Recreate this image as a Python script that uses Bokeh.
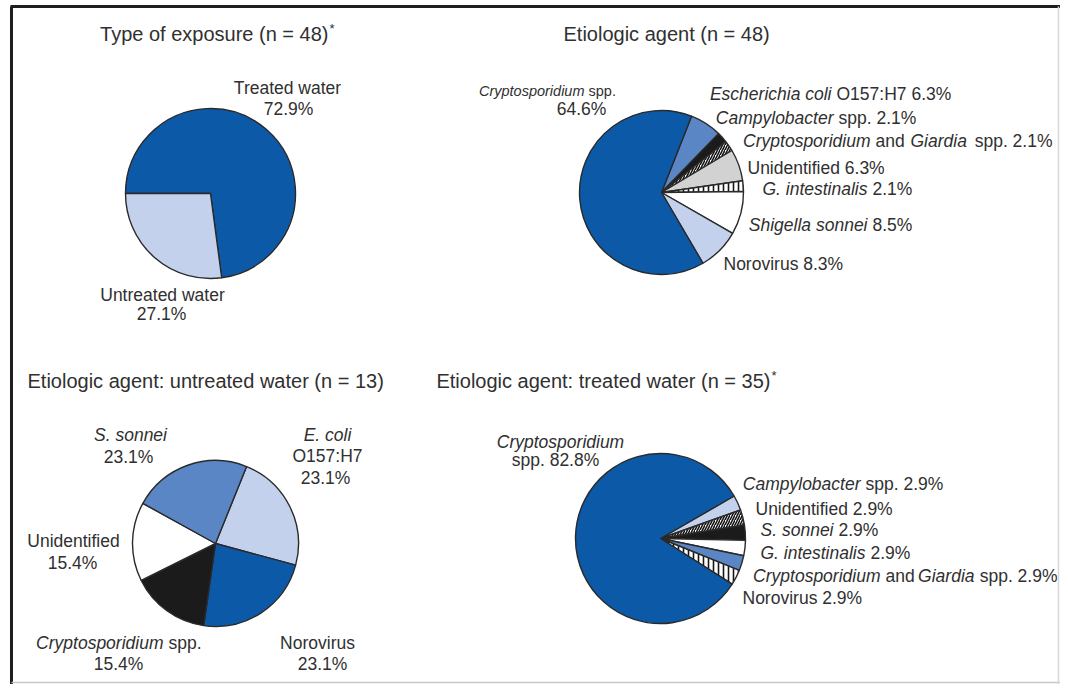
import numpy as np
from bokeh.plotting import figure
from bokeh.models import ColumnDataSource, Range1d
from bokeh.core.properties import value
from bokeh.embed import file_html
from bokeh.resources import INLINE

# ---------------- data ----------------
exposure_cats = ["Treated water", "Untreated water"]
exposure_pct = [72.9, 27.1]

agent_cats = ["Escherichia coli O157:H7", "Campylobacter spp.", "Cryptosporidium and Giardia spp.",
              "Unidentified", "G. intestinalis", "Shigella sonnei", "Norovirus", "Cryptosporidium spp."]
agent_pct = [6.3, 2.1, 2.1, 6.3, 2.1, 8.5, 8.3, 64.6]

untreated_cats = ["E. coli O157:H7", "Norovirus", "Cryptosporidium spp.", "Unidentified", "S. sonnei"]
untreated_pct = [23.1, 23.1, 15.4, 15.4, 23.1]

treated_cats = ["Campylobacter spp.", "Unidentified", "S. sonnei", "G. intestinalis",
                "Cryptosporidium and Giardia spp.", "Norovirus", "Cryptosporidium spp."]
treated_pct = [2.9, 2.9, 2.9, 2.9, 2.9, 2.9, 82.8]

titles = ["Type of exposure (n = 48)", "Etiologic agent (n = 48)",
          "Etiologic agent: untreated water (n = 13)", "Etiologic agent: treated water (n = 35)"]

# ---------------- styles ----------------
FONT = "Liberation Sans"
TXT = "#303030"
TITLE_SIZE = "20px"
LBL = "17.5px"
DARK = "#0c5aa7"
MED = "#5b86c6"
LIGHT = "#c4d1ec"
BLACK = "#1b1b1b"
GRAY = "#d2d2d2"
WHITE = "#ffffff"

W, H = 1060, 684
p = figure(width=W, height=H, output_backend="svg", toolbar_location=None,
           x_range=Range1d(0, W), y_range=Range1d(-H, 0),
           x_axis_type=None, y_axis_type=None, min_border=0)
p.grid.visible = False
p.outline_line_color = None
p.background_fill_color = "white"
p.border_fill_color = "white"

# frame (screen-pixel coordinates, y flipped)
p.segment(x0=[10, 11, 11, 1058], y0=[-6, -6, -682, -6], x1=[1060, 11, 1060, 1058], y1=[-6, -684, -682, -684],
          line_color=["#1e1e1e", "#1e1e1e", "#c8c8c8", "#d8d8d8"], line_width=[3, 3, 1.5, 1.5])


def pie(cx, cy, r, start_deg, pct, fills, hatches):
    vals = np.array(pct, dtype=float)
    frac = vals / vals.sum()
    cum = np.concatenate([[0.0], np.cumsum(frac)])
    a0 = np.deg2rad(start_deg) - 2 * np.pi * cum[:-1]
    a1 = np.deg2rad(start_deg) - 2 * np.pi * cum[1:]
    src = ColumnDataSource(dict(start=a0, end=a1, fill=fills, hatch=hatches))
    p.wedge(x=cx, y=-cy, radius=r, start_angle="start", end_angle="end", direction="clock",
            fill_color="fill", hatch_pattern="hatch", hatch_color="#151515", hatch_scale=5,
            hatch_weight=1.6, line_color="#2a2a2a", line_width=1.4, source=src)


def txt(x, y, s, size=LBL, italic=False, align="left"):
    p.text(x=[x], y=[-y], text=[s], text_font=value(FONT), text_font_size=size,
           text_font_style="italic" if italic else "normal", text_align=align,
           text_baseline="middle", text_color=TXT)


def pc(v):
    return f"{v:.1f}%"


# ---------------- pie 1: type of exposure ----------------
pie(210, 193, 85, 180, exposure_pct, [DARK, LIGHT], [" ", " "])
txt(328, 33, titles[0], size=TITLE_SIZE, align="right")
txt(329, 28, "*", size="13px")
txt(287, 87, exposure_cats[0], align="center")
txt(288, 108, pc(exposure_pct[0]), align="center")
txt(162, 294, exposure_cats[1], align="center")
txt(161, 313, pc(exposure_pct[1]), align="center")

# ---------------- pie 2: etiologic agent ----------------
pie(661, 192, 82, 68.5, agent_pct,
    [MED, BLACK, WHITE, GRAY, WHITE, WHITE, LIGHT, DARK],
    [" ", " ", "/", " ", "|", " ", " ", " "])
txt(563, 33, titles[1], size=TITLE_SIZE)
txt(584, 90, "Cryptosporidium", size="14.5px", italic=True, align="right")
txt(588, 90, "spp.", size="14.5px")
txt(581, 108, pc(agent_pct[7]), align="center")
txt(831, 93, "Escherichia coli", italic=True, align="right")
txt(836, 93, "O157:H7 " + pc(agent_pct[0]))
txt(833, 117, "Campylobacter", italic=True, align="right")
txt(838, 117, "spp. " + pc(agent_pct[1]))
txt(870, 140, "Cryptosporidium", italic=True, align="right")
txt(875, 140, "and")
txt(910, 140, "Giardia", italic=True)
txt(1052, 140, "spp. " + pc(agent_pct[2]), align="right")
txt(747, 167, agent_cats[3] + " " + pc(agent_pct[3]))
txt(867, 188, "G. intestinalis", italic=True, align="right")
txt(872, 188, pc(agent_pct[4]))
txt(867, 224, "Shigella sonnei", italic=True, align="right")
txt(872, 224, pc(agent_pct[5]))
txt(723, 263, agent_cats[6] + " " + pc(agent_pct[6]))

# ---------------- pie 3: untreated water ----------------
pie(215, 543, 83, 68, untreated_pct, [LIGHT, DARK, BLACK, WHITE, MED], [" "] * 5)
txt(27, 380, titles[2], size=TITLE_SIZE)
txt(130, 434, "S. sonnei", italic=True, align="center")
txt(128, 456, pc(untreated_pct[4]), align="center")
txt(327, 434, "E. coli", italic=True, align="center")
txt(327, 455, "O157:H7", align="center")
txt(325, 477, pc(untreated_pct[0]), align="center")
txt(73, 540, untreated_cats[3], align="center")
txt(72, 562, pc(untreated_pct[3]), align="center")
txt(163, 642, "Cryptosporidium", italic=True, align="right")
txt(168, 642, "spp.")
txt(118, 663, pc(untreated_pct[2]), align="center")
txt(317, 642, untreated_cats[1], align="center")
txt(322, 663, pc(untreated_pct[1]), align="center")

# ---------------- pie 4: treated water ----------------
pie(660, 538, 85, 30, treated_pct, [LIGHT, WHITE, BLACK, WHITE, MED, WHITE, DARK],
    [" ", "/", " ", " ", " ", "|", " "])
txt(770, 380, titles[3], size=TITLE_SIZE, align="right")
txt(771, 375, "*", size="13px")
txt(560, 441, "Cryptosporidium", italic=True, align="center")
txt(555, 459, "spp. " + pc(treated_pct[6]), align="center")
txt(860, 483, "Campylobacter", italic=True, align="right")
txt(865, 483, "spp. " + pc(treated_pct[0]))
txt(755, 508, treated_cats[1] + " " + pc(treated_pct[1]))
txt(833, 529, "S. sonnei", italic=True, align="right")
txt(838, 529, pc(treated_pct[2]))
txt(865, 552, "G. intestinalis", italic=True, align="right")
txt(870, 552, pc(treated_pct[3]))
txt(880, 575, "Cryptosporidium", italic=True, align="right")
txt(885, 575, "and")
txt(974, 575, "Giardia", italic=True, align="right")
txt(1057, 575, "spp. " + pc(treated_pct[4]), align="right")
txt(742, 597, treated_cats[5] + " " + pc(treated_pct[5]))

open("out.html", "w").write(file_html(p, INLINE))
